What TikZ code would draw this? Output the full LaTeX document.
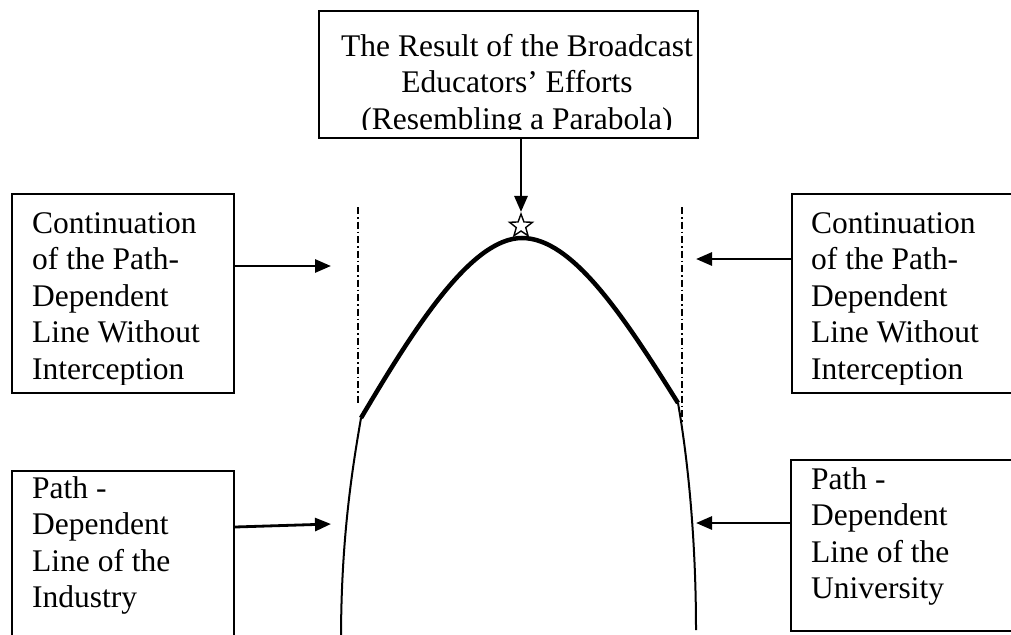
\documentclass[tikz,border=0pt]{standalone}
\usepackage{fontspec}
\setmainfont{Liberation Serif}
\usetikzlibrary{arrows.meta,shapes.geometric}
\tikzset{
  box/.style={draw, line width=2pt, inner sep=0, anchor=north west},
  txt/.style={inner sep=0, anchor=north west, align=left, font=\fontsize{31.5}{36.5}\selectfont},
  ctxt/.style={inner sep=0, anchor=north, align=center, font=\fontsize{31.5}{36.5}\selectfont},
  arr/.style={line width=2.8pt, -{Triangle[length=16pt,width=13pt]}},
  thickcurve/.style={line width=4.5pt},
  thincurve/.style={line width=2pt},
  dashdot/.style={line width=1.6pt, dash pattern=on 7pt off 3pt on 1.5pt off 3pt},
  starmark/.style={draw, star, star points=5, star point ratio=2.4, minimum size=24pt, inner sep=0, line width=1.4pt, fill=white}
}
\begin{document}
\begin{tikzpicture}[x=1pt,y=-1pt]
\useasboundingbox (0,0) rectangle (1011,634);

% boxes
\node[box, minimum width=379pt, minimum height=127pt] (top) at (318,10) {};
\node[box, minimum width=222pt, minimum height=199pt] (lt) at (11,193) {};
\node[box, minimum width=230pt, minimum height=199pt] (rt) at (791,193) {};
\node[box, minimum width=222pt, minimum height=185pt] (lb) at (11,470) {};
\node[box, minimum width=230pt, minimum height=171pt] (rb) at (790,459) {};

% texts (clipped like the original text boxes)
\begin{scope}
\clip (top.north west) rectangle ([yshift=10pt]top.south east);
\node[ctxt] (toptxt) at (517,30.5) {\strut The Result of the Broadcast\\Educators’ Efforts\\(Resembling a Parabola)};
\end{scope}
\begin{scope}
\clip (lt.north west) rectangle ([yshift=10pt]lt.south east);
\node[txt] (lttxt) at (32,207.5) {\strut Continuation\\of the Path-\\Dependent\\Line Without\\Interception};
\end{scope}
\begin{scope}
\clip (rt.north west) rectangle ([yshift=10pt]rt.south east);
\node[txt] (rttxt) at (811,207.5) {\strut Continuation\\of the Path-\\Dependent\\Line Without\\Interception};
\end{scope}
\node[txt] (lbtxt) at (32,472.5) {\strut Path -\\Dependent\\Line of the\\Industry};
\node[txt] (rbtxt) at (811,463.5) {\strut Path -\\Dependent\\Line of the\\University};

% curve points
\coordinate (pl) at (361,418);
\coordinate (apex) at (522,238);
\coordinate (pr) at (678,403);
\coordinate (bl) at (341,640);
\coordinate (br) at (696,630);

% dash-dot guide lines
\coordinate (dlt) at (358,207);
\coordinate (dlb) at (358,405);
\coordinate (drt) at (682,207);
\coordinate (drb) at (682,423);
\draw[dashdot] (dlt) -- (dlb);
\draw[dashdot] (drt) -- (drb);

% curves
\draw[thickcurve] (pl) .. controls (416,325) and (472,238) .. (apex) .. controls (572,238) and (623,315) .. (pr);
\draw[thincurve] (pl) .. controls (352,470) and (341,540) .. (bl);
\draw[thincurve] (pr) .. controls (688,460) and (696,540) .. (br);

% star
\node[starmark] (star) at (521,226) {};

% arrow targets
\coordinate (tlt) at (331,266);
\coordinate (trt) at (696,259);
\coordinate (tlb) at (331,524);
\coordinate (trb) at (696,523);

% arrows
\draw[arr] (top.south -| star.north) -- (star.north);
\draw[arr] (lt.east |- tlt) -- (tlt);
\draw[arr] (rt.west |- trt) -- (trt);
\draw[arr] ([yshift=-3pt]lb.east |- tlb) -- (tlb);
\draw[arr] (rb.west |- trb) -- (trb);
\end{tikzpicture}
\end{document}
